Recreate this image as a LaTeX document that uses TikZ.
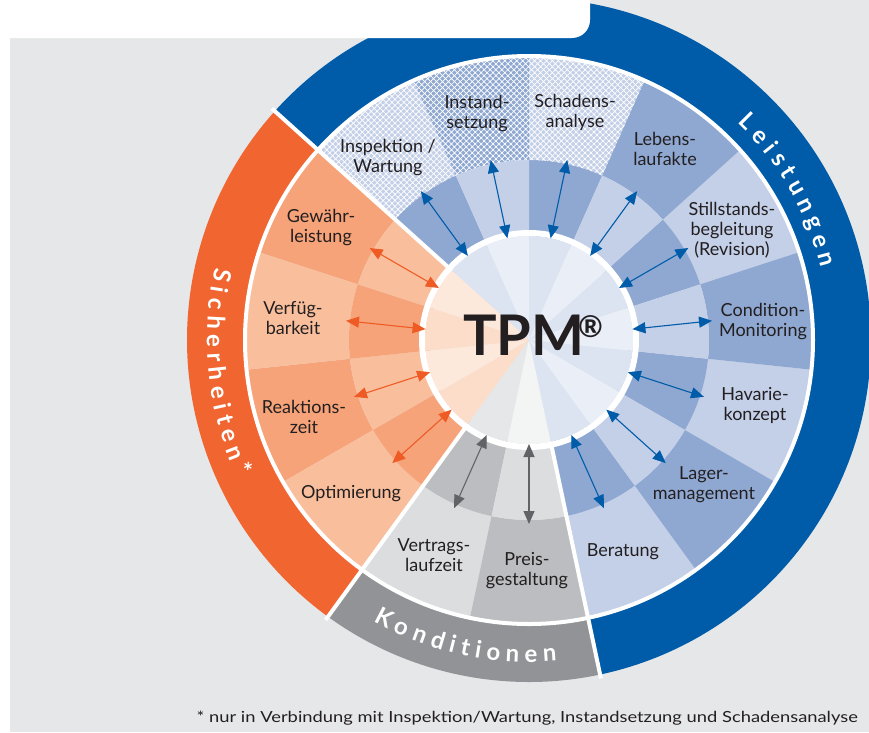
\documentclass[tikz,border=0pt]{standalone}
\usepackage{fontspec}
\usepackage{graphicx}
\setmainfont{Lato}
\usetikzlibrary{arrows.meta,decorations.text,patterns.meta}

\definecolor{bggray}{HTML}{E6E7E8}
\definecolor{lblue}{HTML}{005CA8}
\definecolor{bdark}{HTML}{8FA8D2}
\definecolor{blight}{HTML}{C4CFE8}
\definecolor{bdisc}{HTML}{DCE3F1}
\definecolor{bdiscl}{HTML}{E9EEF7}
\definecolor{lorange}{HTML}{F16531}
\definecolor{odark}{HTML}{F6A379}
\definecolor{olight}{HTML}{F9BF9D}
\definecolor{odisc}{HTML}{FCDDC9}
\definecolor{odiscl}{HTML}{FDE8DC}
\definecolor{lgray}{HTML}{929397}
\definecolor{gdark}{HTML}{BCBDC0}
\definecolor{glight}{HTML}{DCDDDF}
\definecolor{gdisc}{HTML}{E6E7E8}
\definecolor{gdiscl}{HTML}{F3F4F4}
\definecolor{ink}{HTML}{231F20}
\definecolor{oarrow}{HTML}{EF5B25}
\definecolor{garrow}{HTML}{626366}

\newcommand{\ringpart}[5]{%
  \fill[#5] (#1:#3) arc[start angle=#1,end angle=#2,radius=#3]
    -- (#2:#4) arc[start angle=#2,end angle=#1,radius=#4] -- cycle;}
\newcommand{\slice}[3]{%
  \fill[#3] (0,0) -- (#1:104) arc[start angle=#1,end angle=#2,radius=104] -- cycle;}
\newcommand{\ringfont}{\bfseries\fontsize{24}{24}\selectfont}

\tikzset{%
lbl/.style={align=center,text=ink,font=\fontsize{18}{20}\selectfont},
twoway/.style={{Triangle[length=13pt,width=11pt]}-{Triangle[length=13pt,width=11pt]},line width=1.1pt},
sep/.style={white,line width=4pt},
hatch/.style={pattern={Hatch[angle=45,distance=4.2pt,line width=0.7pt]},pattern color=white,fill opacity=0.42},
}

\begin{document}
\begin{tikzpicture}[x=1pt,y=1pt]
\useasboundingbox (-529,-392) rectangle (340,340);
\fill[white] (-529,-392) rectangle (340,340);
\fill[bggray] (-519,-392) rectangle (340,340);

% outer ring
\ringpart{-78}{138}{283}{342}{lblue}
\ringpart{138}{234}{283}{342}{lorange}
\ringpart{234}{282}{283}{342}{lgray}

% Leistungen
\foreach \a/\b in {114/138,66/90,18/42,-30/-6,-78/-54}{
  \ringpart{\a}{\b}{180}{285}{blight}
  \ringpart{\a}{\b}{100}{180}{bdark}
  \slice{\a}{\b}{bdisc}
}
\foreach \a/\b in {90/114,42/66,-6/18,-54/-30}{
  \ringpart{\a}{\b}{180}{285}{bdark}
  \ringpart{\a}{\b}{100}{180}{blight}
  \slice{\a}{\b}{bdiscl}
}
\foreach \a/\b in {114/138,90/114,66/90}{
  \ringpart{\a}{\b}{180}{285}{hatch}
}

% Sicherheiten
\foreach \a/\b in {138/162,186/210}{
  \ringpart{\a}{\b}{180}{285}{odark}
  \ringpart{\a}{\b}{100}{180}{olight}
  \slice{\a}{\b}{odiscl}
}
\foreach \a/\b in {162/186,210/234}{
  \ringpart{\a}{\b}{180}{285}{olight}
  \ringpart{\a}{\b}{100}{180}{odark}
  \slice{\a}{\b}{odisc}
}

% Konditionen
\ringpart{234}{258}{180}{285}{glight}
\ringpart{234}{258}{100}{180}{gdark}
\slice{234}{258}{gdisc}
\ringpart{258}{282}{180}{285}{gdark}
\ringpart{258}{282}{100}{180}{glight}
\slice{258}{282}{gdiscl}

\draw[white,line width=6pt] (0,0) circle[radius=107];
\draw[white,line width=4pt] (0,0) circle[radius=284];
\foreach \a in {138,234,282}
  \draw[sep] (\a:104) -- (\a:346);

\node[lbl] (insp) at (-141,182) {Inspektion /\\Wartung};
\node[lbl] (inst) at (-52,226) {Instand-\\setzung};
\node[lbl] (schad) at (46,228) {Schadens-\\analyse};
\node[lbl] (leben) at (136,191) {Lebens-\\laufakte};
\node[lbl] (still) at (203,110) {Stillstands-\\begleitung\\(Revision)};
\node[lbl] (cond) at (234,18) {Condition-\\Monitoring};
\node[lbl] (hav) at (226,-65) {Havarie-\\konzept};
\node[lbl] (lager) at (175,-145) {Lager-\\management};
\node[lbl] (ber) at (94,-212) {Beratung};
\node[lbl] (preis) at (-2,-231) {Preis-\\gestaltung};
\node[lbl] (vertr) at (-95,-215) {Vertrags-\\laufzeit};
\node[lbl] (opti) at (-178,-154) {Optimierung};
\node[lbl] (reak) at (-225,-77) {Reaktions-\\zeit};
\node[lbl] (verf) at (-236,22) {Verfüg-\\barkeit};
\node[lbl] (gew) at (-208,112) {Gewähr-\\leistung};

\foreach \a [count=\n] in {126,102,...,-66}{
  \coordinate (bi\n) at (\a:104);
  \coordinate (bo\n) at (\a:184);
  \draw[twoway,lblue] (bi\n) -- (bo\n);
}
\foreach \a [count=\n] in {150,174,198,222}{
  \coordinate (oi\n) at (\a:104);
  \coordinate (oo\n) at (\a:184);
  \draw[twoway,oarrow] (oi\n) -- (oo\n);
}
\foreach \a [count=\n] in {246,270}{
  \coordinate (gi\n) at (\a:104);
  \coordinate (go\n) at (\a:184);
  \draw[twoway,garrow] (gi\n) -- (go\n);
}

\path[decorate,decoration={text along path,text align=center,text color=white,
  text={|\ringfont|L e i s t u n g e n}}]
  (62:301) arc[start angle=62,end angle=-2,radius=301];
\path[decorate,decoration={text along path,text align=center,text color=white,
  text={|\ringfont|S i c h e r h e i t e n *}}]
  (146:322) arc[start angle=146,end angle=226,radius=322];
\path[decorate,decoration={text along path,text align=center,text color=white,
  text={|\ringfont|K o n d i t i o n e n}}]
  (226:322) arc[start angle=226,end angle=290,radius=322];

\fill[white,rounded corners=18pt] (-560,400) -- (61,400) -- (61,302) -- (-560,302) -- cycle;

\node[anchor=base west,inner sep=0,text=ink,font=\bfseries\fontsize{56}{56}\selectfont] (tpm) at (-66,-15) {TPM};
\node[anchor=north west,inner sep=0,text=ink,font=\bfseries\fontsize{30}{30}\selectfont] (reg) at (49,25) {®};

\node[anchor=base east,inner sep=0,text=ink] (note) at (329,-382)
  {\resizebox{661pt}{11.5pt}{* nur in Verbindung mit Inspektion/Wartung, Instandsetzung und Schadensanalyse}};
\end{tikzpicture}
\end{document}
